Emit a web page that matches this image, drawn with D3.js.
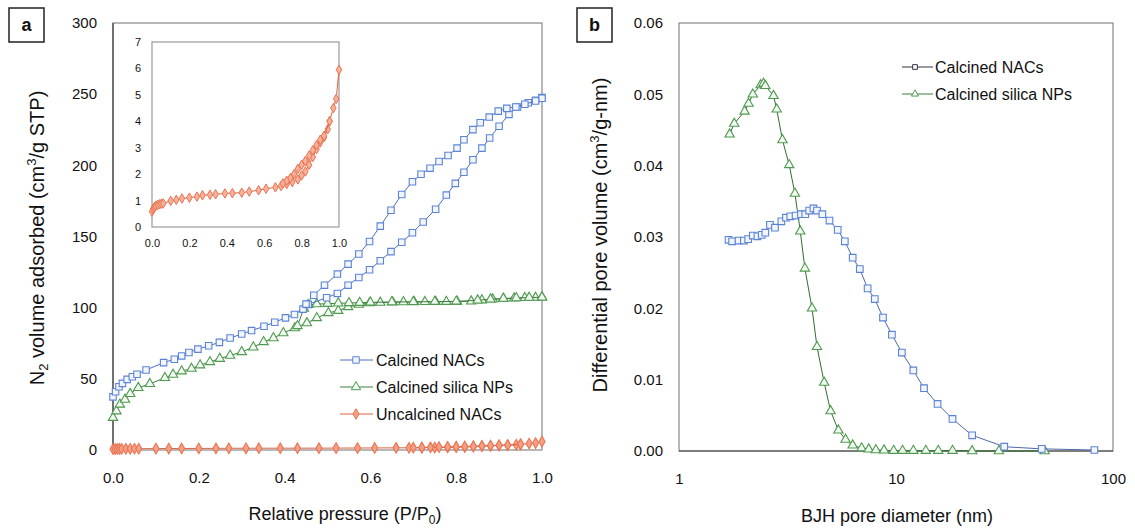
<!DOCTYPE html>
<html><head><meta charset="utf-8">
<script src="https://cdn.jsdelivr.net/npm/d3@7"></script>
<style>body{margin:0;background:#fff} text{font-family:"Liberation Sans",Arial,sans-serif;fill:#111}</style>
</head><body><svg id="c" width="1135" height="528"></svg>
<script>
// ---------- Panel a: N2 isotherms ----------
const nacAdsX = [0.000,0.006,0.014,0.022,0.033,0.045,0.056,0.077,0.118,0.143,0.160,0.177,0.198,0.223,0.248,0.273,0.300,0.323,0.352,0.377,0.402,0.423,0.443,0.455,0.498,0.523,0.548,0.573,0.598,0.623,0.648,0.673,0.698,0.723,0.752,0.777,0.798,0.818,0.839,0.860,0.878,0.900,0.923,0.943,0.968,0.985,1.000];
const nacAdsY = [37.3,40.9,44.4,46.8,49.6,51.5,53.2,56.2,61.4,63.8,66.1,68.5,70.9,73.2,75.6,78.7,81.5,83.9,86.9,89.8,92.8,95.2,99.0,102.3,107.0,110.0,115.8,121.2,126.6,133.0,139.4,146.0,152.6,160.2,169.1,179.1,187.3,195.1,203.9,212.1,219.2,227.5,235.8,241.0,244.0,245.7,247.6];
const nacDesX = [1.000,0.985,0.960,0.939,0.918,0.898,0.877,0.856,0.839,0.818,0.802,0.781,0.760,0.739,0.718,0.698,0.673,0.648,0.623,0.598,0.573,0.548,0.523,0.493,0.468,0.450];
const nacDesY = [247.1,245.2,242.9,241.0,240.0,238.1,233.9,229.9,225.1,218.0,212.1,206.9,202.7,198.0,193.7,188.5,179.5,168.4,157.3,146.5,137.7,130.6,123.6,115.8,108.7,102.5];

const silAdsX = [0.0,0.008,0.016,0.028,0.04,0.059,0.086,0.121,0.14,0.16,0.183,0.203,0.226,0.249,0.273,0.3,0.327,0.351,0.374,0.397,0.424,0.452,0.475,0.502,0.525,0.548,0.573,0.598,0.623,0.652,0.677,0.702,0.727,0.752,0.777,0.802,0.835,0.86,0.885,0.91,0.935,0.96,0.985,1.0];
const silAdsY = [22.7,27.3,32.0,35.5,39.5,43.7,46.5,50.7,53.0,55.4,57.2,59.6,61.9,64.2,66.4,68.9,72.2,75.9,78.7,82.2,85.7,89.2,92.8,96.3,97.9,100.5,102.2,103.2,103.6,103.8,104.0,104.0,104.1,104.2,104.2,104.3,104.5,105.3,105.9,106.3,106.6,106.9,107.1,107.3];
const silDesX = [1.0,0.97,0.94,0.91,0.88,0.85,0.8,0.75,0.7,0.65,0.6,0.575,0.55,0.525,0.5,0.475,0.455,0.445,0.43];
const silDesY = [107.3,107.1,106.8,106.4,105.9,105.2,104.4,104.2,104.1,104.0,103.7,103.5,103.3,103.1,102.8,102.5,102.0,99.5,87.2];

const uncAdsX = [0.0,0.005,0.01,0.015,0.02,0.03,0.04,0.05,0.06,0.1,0.13,0.16,0.2,0.24,0.27,0.31,0.34,0.39,0.43,0.48,0.52,0.57,0.61,0.66,0.69,0.72,0.75,0.78,0.8,0.82,0.84,0.86,0.88,0.9,0.92,0.94,0.95,0.97,0.985,1.0];
const uncAdsY = [0.58,0.67,0.72,0.76,0.8,0.84,0.86,0.88,0.89,0.99,1.03,1.08,1.11,1.15,1.2,1.22,1.24,1.27,1.28,1.3,1.34,1.39,1.45,1.5,1.55,1.62,1.7,1.8,1.95,2.1,2.35,2.65,2.95,3.2,3.4,3.7,4.0,4.5,4.85,5.95];
const uncDesX = [0.95,0.92,0.9,0.88,0.86,0.84,0.82,0.8,0.78,0.76,0.74,0.72,0.7];
const uncDesY = [4.0,3.45,3.3,3.1,2.9,2.7,2.5,2.35,2.2,2.0,1.85,1.75,1.65];

const aXTicks = [0, 0.2, 0.4, 0.6, 0.8, 1.0];
const aYTicks = [0, 50, 100, 150, 200, 250, 300];
const insetXTicks = [0, 0.2, 0.4, 0.6, 0.8, 1.0];
const insetYTicks = [0, 1, 2, 3, 4, 5, 6, 7];
const aLegend = ["Calcined NACs", "Calcined silica NPs", "Uncalcined NACs"];

// ---------- Panel b: BJH pore size distribution ----------
const psdNacX = [1.692,1.757,1.881,1.991,2.084,2.189,2.299,2.406,2.499,2.625,2.768,2.963,3.112,3.257,3.446,3.648,3.818,3.98,4.165,4.325,4.578,4.937,5.387,5.81,6.315,6.811,7.401,7.985,8.71,9.575,10.64,12.02,13.46,15.54,18.21,22.43,31.54,46.93,82.1];
const psdNacY = [0.0296,0.0294,0.0295,0.0295,0.0297,0.0302,0.0301,0.0303,0.0306,0.0317,0.0313,0.0322,0.0327,0.0329,0.0330,0.0332,0.0332,0.0337,0.0340,0.0337,0.0332,0.0323,0.0310,0.0294,0.0271,0.0255,0.0228,0.0213,0.0187,0.0163,0.0138,0.0113,0.0088,0.0066,0.0045,0.0022,0.0006,0.0003,0.00014];
const psdSilX = [1.711,1.798,2.006,2.092,2.189,2.378,2.452,2.499,2.726,2.820,2.997,3.220,3.421,3.621,3.803,4.102,4.325,4.667,4.994,5.428,5.855,6.315,6.941,7.486,8.074,8.81,9.757,10.72,12.02,13.72,15.66,18.21,22.43,29.8,48.4];
const psdSilY = [0.0444,0.0459,0.0476,0.0487,0.0500,0.0513,0.0515,0.0512,0.0498,0.0479,0.0436,0.0401,0.0361,0.0308,0.0256,0.0200,0.0146,0.0096,0.0056,0.0029,0.0016,0.0008,0.0004,0.00024,0.00014,0.0001,0.00005,0.00005,0.00005,0.00005,0.00005,0.00005,0,0,0];
const bXTicks = [1, 10, 100];
const bYTicks = [0, 0.01, 0.02, 0.03, 0.04, 0.05, 0.06];
const bLegend = ["Calcined NACs", "Calcined silica NPs"];

// ---------- styles ----------
const BLUE = "#4a6fbf", BLUE_M = "#5b84d6";
const GREEN = "#3c7f3c", GREEN_M = "#4f9a4f";
const ORANGE = "#e0623e", ORANGE_M = "#ea7450";
const FONT = "Liberation Sans, Arial, sans-serif";

const svg = d3.select("#c");
const zip = (xs, ys) => xs.map((x, i) => [x, ys[i]]);

function series(g, pts, x, y, opt) {
  g.append("path").datum(pts)
    .attr("d", d3.line().x(d => x(d[0])).y(d => y(d[1])))
    .attr("fill", "none").attr("stroke", opt.line).attr("stroke-width", opt.lw || 1);
  g.selectAll(null).data(pts).enter().append("path")
    .attr("d", d3.symbol().type(opt.sym).size(opt.size))
    .attr("transform", d => `translate(${x(d[0])},${y(d[1])})`)
    .attr("fill", opt.fill).attr("stroke", opt.mark).attr("stroke-width", opt.mw || 1.1);
}

function frame(g, x0, x1, y0, y1, stroke) {
  g.append("rect").attr("x", x0).attr("y", y1).attr("width", x1 - x0).attr("height", y0 - y1)
    .attr("fill", "none").attr("stroke", stroke || "#888").attr("stroke-width", 1.2);
}

function styleAxis(sel, size) {
  sel.select(".domain").remove();
  sel.selectAll("text").attr("font-size", size).attr("font-family", FONT).attr("fill", "#111");
}

function panelLabel(txt, x, y) {
  svg.append("rect").attr("x", x).attr("y", y).attr("width", 35).attr("height", 34)
    .attr("fill", "#fff").attr("stroke", "#222").attr("stroke-width", 1.5);
  svg.append("text").attr("x", x + 17.5).attr("y", y + 23).attr("text-anchor", "middle")
    .attr("font-size", 18).attr("font-weight", "bold").text(txt);
}

// ===== Panel a =====
const ax = d3.scaleLinear().domain([0, 1]).range([113, 542]);
const ay = d3.scaleLinear().domain([0, 300]).range([450, 23]);
const ga = svg.append("g");
frame(ga, 113, 542, 450, 23);
ga.append("line").attr("x1", 113).attr("x2", 113).attr("y1", 23).attr("y2", 450).attr("stroke", "#444").attr("stroke-width", 1.2);

styleAxis(ga.append("g").attr("transform", "translate(0,450)")
  .call(d3.axisBottom(ax).tickValues(aXTicks).tickSize(0).tickPadding(22).tickFormat(d3.format(".1f"))), 15);
styleAxis(ga.append("g").attr("transform", "translate(113,0)")
  .call(d3.axisLeft(ay).tickValues(aYTicks).tickSize(0).tickPadding(16)), 15);

const optNac = {line: BLUE, mark: BLUE_M, fill: "#f2f5fc", sym: d3.symbolSquare, size: 42};
const optSil = {line: GREEN, mark: GREEN_M, fill: "#f2f8f2", sym: d3.symbolTriangle, size: 38};
const optUnc = {line: ORANGE, mark: ORANGE_M, fill: "#f3a088", sym: d3.symbolDiamond, size: 32};

series(ga, zip(uncAdsX, uncAdsY), ax, ay, optUnc);
series(ga, zip(uncDesX, uncDesY), ax, ay, optUnc);
series(ga, zip(silAdsX, silAdsY), ax, ay, optSil);
series(ga, zip(silDesX, silDesY), ax, ay, optSil);
series(ga, zip(nacAdsX, nacAdsY), ax, ay, optNac);
series(ga, zip(nacDesX, nacDesY), ax, ay, optNac);

// legend a
const legA = [optNac, optSil, optUnc];
aLegend.forEach((name, i) => {
  const yy = 360 + i * 27;
  const o = legA[i];
  ga.append("line").attr("x1", 340).attr("x2", 373).attr("y1", yy).attr("y2", yy).attr("stroke", o.line);
  ga.append("path").attr("d", d3.symbol().type(o.sym).size(o.size)()).attr("transform", `translate(356,${yy})`)
    .attr("fill", o.fill).attr("stroke", o.mark);
  ga.append("text").attr("x", 376).attr("y", yy + 6).attr("font-size", 16).text(name);
});

// inset
const ix = d3.scaleLinear().domain([0, 1]).range([152, 339]);
const iy = d3.scaleLinear().domain([0, 7]).range([227, 42]);
const gi = svg.append("g");
frame(gi, 152, 339, 227, 42, "#999");
styleAxis(gi.append("g").attr("transform", "translate(0,227)")
  .call(d3.axisBottom(ix).tickValues(insetXTicks).tickSize(0).tickPadding(12).tickFormat(d3.format(".1f"))), 11);
styleAxis(gi.append("g").attr("transform", "translate(152,0)")
  .call(d3.axisLeft(iy).tickValues(insetYTicks).tickSize(0).tickPadding(11).tickFormat(d3.format("d"))), 11);
const optUncI = {line: ORANGE, mark: ORANGE_M, fill: "#f6b19c", sym: d3.symbolDiamond, size: 26, mw: 1};
series(gi, zip(uncAdsX, uncAdsY), ix, iy, optUncI);
series(gi, zip(uncDesX, uncDesY), ix, iy, optUncI);

// titles a
svg.append("text").attr("transform", "translate(44,238) rotate(-90)").attr("text-anchor", "middle")
  .attr("font-size", 20)
  .html('N<tspan font-size="13" dy="4">2</tspan><tspan dy="-4"> volume adsorbed (cm</tspan><tspan font-size="13" dy="-8">3</tspan><tspan dy="8">/g STP)</tspan>');
svg.append("text").attr("x", 345).attr("y", 520).attr("text-anchor", "middle").attr("font-size", 18)
  .html('Relative pressure (P/P<tspan font-size="12" dy="4">0</tspan><tspan dy="-4">)</tspan>');
panelLabel("a", 9, 8);

// ===== Panel b =====
const bx = d3.scaleLog().domain([1, 100]).range([679, 1113]);
const by = d3.scaleLinear().domain([0, 0.06]).range([451, 23]);
const gb = svg.append("g");
frame(gb, 679, 1113, 451, 23);
gb.append("line").attr("x1", 679).attr("x2", 1113).attr("y1", 451).attr("y2", 451).attr("stroke", "#444").attr("stroke-width", 1.2);
styleAxis(gb.append("g").attr("transform", "translate(0,451)")
  .call(d3.axisBottom(bx).tickValues(bXTicks).tickSize(0).tickPadding(22).tickFormat(d3.format("d"))), 15);
styleAxis(gb.append("g").attr("transform", "translate(679,0)")
  .call(d3.axisLeft(by).tickValues(bYTicks).tickSize(0).tickPadding(16).tickFormat(d3.format(".2f"))), 15);

const optBNac = {line: "#4d68a8", mark: BLUE_M, fill: "#f2f5fc", sym: d3.symbolSquare, size: 44};
const optBSil = {line: "#2f6e2f", mark: GREEN_M, fill: "#f2f8f2", sym: d3.symbolTriangle, size: 38};
series(gb, zip(psdSilX, psdSilY), bx, by, optBSil);
series(gb, zip(psdNacX, psdNacY), bx, by, optBNac);

const legB = [{line: "#334", mark: "#334", fill: "#fff", sym: d3.symbolSquare, size: 22},
              {line: GREEN, mark: GREEN_M, fill: "#fff", sym: d3.symbolTriangle, size: 22}];
bLegend.forEach((name, i) => {
  const yy = 67 + i * 27;
  const o = legB[i];
  gb.append("line").attr("x1", 902).attr("x2", 933).attr("y1", yy).attr("y2", yy).attr("stroke", o.line);
  gb.append("path").attr("d", d3.symbol().type(o.sym).size(o.size)()).attr("transform", `translate(915,${yy})`)
    .attr("fill", o.fill).attr("stroke", o.mark);
  gb.append("text").attr("x", 935).attr("y", yy + 6).attr("font-size", 16).text(name);
});

svg.append("text").attr("transform", "translate(607,235) rotate(-90)").attr("text-anchor", "middle")
  .attr("font-size", 20)
  .html('Differential pore volume (cm<tspan font-size="13" dy="-8">3</tspan><tspan dy="8">/g-nm)</tspan>');
svg.append("text").attr("x", 897).attr("y", 522).attr("text-anchor", "middle").attr("font-size", 18)
  .text("BJH pore diameter (nm)");
panelLabel("b", 577, 8);
</script>
</body></html>
